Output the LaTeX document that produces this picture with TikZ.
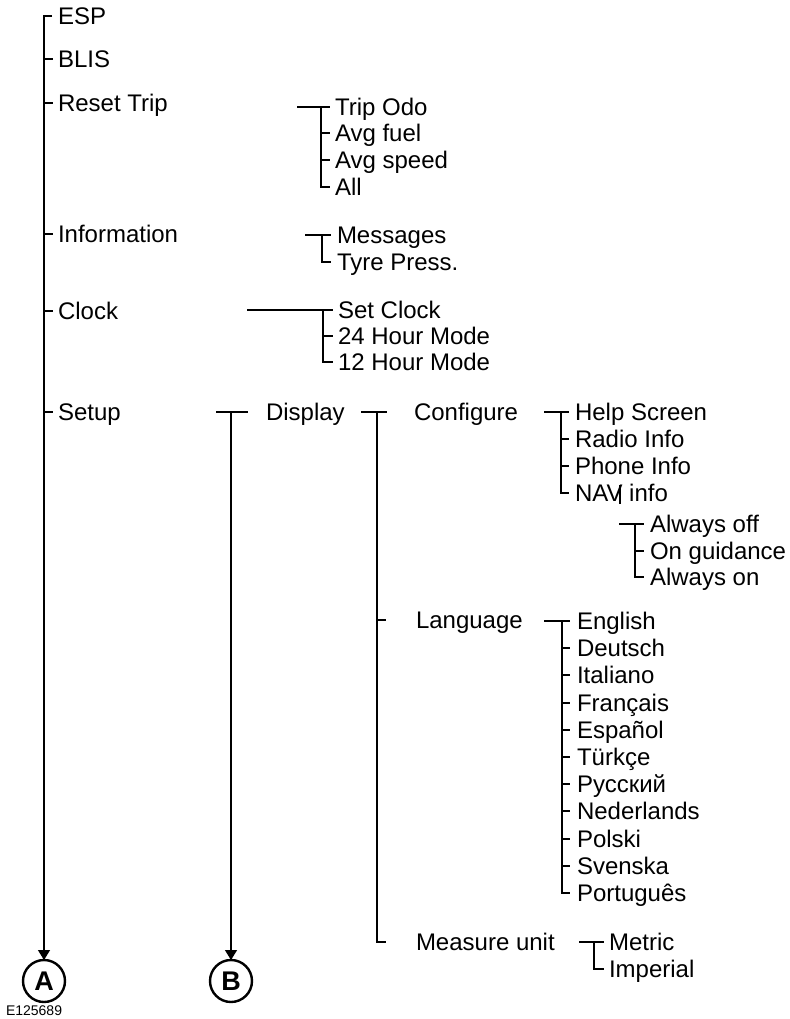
\documentclass[tikz,border=0pt]{standalone}
\usepackage{fontspec}
\setmainfont{Liberation Sans}
\usetikzlibrary{arrows.meta}
\begin{document}
\begin{tikzpicture}[x=1pt,y=-1pt,
  every node/.style={inner sep=0pt,outer sep=0pt},
  lbl/.style={anchor=west,text height=17pt,text depth=0pt,font=\fontsize{24}{27}\selectfont},
  ln/.style={line width=1.3pt,line cap=rect},
  arr/.style={line width=1.3pt,-{Triangle[width=12pt,length=10pt]}},
  circ/.style={circle,draw,line width=2.4pt,minimum size=42pt,font=\fontsize{27}{27}\selectfont\bfseries}]
\useasboundingbox (0,0) rectangle (789,1019);
% main column
\node[lbl] (esp) at (58,16) {ESP};
\node[lbl] (blis) at (58,59) {BLIS};
\node[lbl] (reset) at (58,103) {Reset Trip};
\node[lbl] (info) at (58,234) {Information};
\node[lbl] (clock) at (58,311) {Clock};
\node[lbl] (setup) at (58,412) {Setup};
\node[circ] (ca) at (44,981) {A};
\node[circ] (cb) at (231,981) {B};
\node[anchor=west,font=\fontsize{14}{14}\selectfont] (code) at (6,1011) {E125689};
\draw[arr] ([xshift=-6pt]esp.west) -| (ca.north);
\foreach \n in {blis,reset,info,clock,setup}
  \draw[ln] (ca.north |- \n.west) -- ([xshift=-6pt]\n.west);
% reset trip
\node[lbl] (odo) at (335,107) {Trip Odo};
\node[lbl] (fuel) at (335,133) {Avg fuel};
\node[lbl] (speed) at (335,160) {Avg speed};
\node[lbl] (all) at (335,187) {All};
\coordinate (r0) at (298,107);
\coordinate (rv) at (321,107);
\draw[ln] (r0) -- ([xshift=-6pt]odo.west);
\draw[ln] (rv) |- ([xshift=-6pt]all.west);
\foreach \n in {fuel,speed} \draw[ln] (rv |- \n.west) -- ([xshift=-6pt]\n.west);
% information
\node[lbl] (msg) at (337,235) {Messages};
\node[lbl] (tyre) at (337,262) {Tyre Press.};
\coordinate (i0) at (306,235);
\coordinate (iv) at (322,235);
\draw[ln] (i0) -- ([xshift=-7pt]msg.west);
\draw[ln] (iv) |- ([xshift=-7pt]tyre.west);
% clock
\node[lbl] (set) at (338,310) {Set Clock};
\node[lbl] (h24) at (338,336) {24 Hour Mode};
\node[lbl] (h12) at (338,362) {12 Hour Mode};
\coordinate (c0) at (248,310);
\coordinate (cv) at (323,310);
\draw[ln] (c0) -- ([xshift=-6pt]set.west);
\draw[ln] (cv) |- ([xshift=-6pt]h12.west);
\draw[ln] (cv |- h24.west) -- ([xshift=-6pt]h24.west);
% setup -> display
\node[lbl] (disp) at (266,412) {Display};
\coordinate (s0) at (217,412);
\coordinate (sv) at (231,412);
\draw[ln] (s0) -- ([xshift=-19pt]disp.west);
\draw[arr] (sv) -- (cb.north);
% display subtree
\node[lbl] (conf) at (414,412) {Configure};
\node[lbl] (lang) at (416,620) {Language};
\node[lbl] (meas) at (416,942) {Measure unit};
\coordinate (d0) at (362,412);
\coordinate (dv) at (377,412);
\draw[ln] (d0) -- ([xshift=-28pt]conf.west);
\draw[ln] (dv) |- ([xshift=-31pt]meas.west);
\draw[ln] (dv |- lang.west) -- ([xshift=-31pt]lang.west);
% configure subtree
\node[lbl] (help) at (575,412) {Help Screen};
\node[lbl] (radio) at (575,439) {Radio Info};
\node[lbl] (phone) at (575,466) {Phone Info};
\node[lbl] (nav) at (575,493) {NAV info};
\coordinate (f0) at (545,412);
\coordinate (fv) at (561,412);
\draw[ln] (f0) -- ([xshift=-7pt]help.west);
\draw[ln] (fv) |- ([xshift=-7pt]nav.west);
\foreach \n in {radio,phone} \draw[ln] (fv |- \n.west) -- ([xshift=-7pt]\n.west);
% NAV subtree
\coordinate (nt) at (620,486);
\coordinate (nb) at (620,503);
\draw[ln] (nt) -- (nb);
\node[lbl] (aoff) at (650,524) {Always off};
\node[lbl] (guid) at (650,551) {On guidance};
\node[lbl] (aon) at (650,577) {Always on};
\coordinate (n0) at (620,524);
\coordinate (nv) at (635,524);
\draw[ln] (n0) -- ([xshift=-7pt]aoff.west);
\draw[ln] (nv) |- ([xshift=-7pt]aon.west);
\draw[ln] (nv |- guid.west) -- ([xshift=-7pt]guid.west);
% language subtree
\foreach \t/\n/\y in {English/l1/621,Deutsch/l2/648,Italiano/l3/675,Français/l4/703,Español/l5/730,Türkçe/l6/757,Русский/l7/784,Nederlands/l8/811,Polski/l9/839,Svenska/l10/866,Português/l11/893}
  \node[lbl] (\n) at (577,\y) {\t};
\coordinate (g0) at (545,621);
\coordinate (gv) at (562,621);
\draw[ln] (g0) -- ([xshift=-8pt]l1.west);
\draw[ln] (gv) |- ([xshift=-8pt]l11.west);
\foreach \n in {l2,l3,l4,l5,l6,l7,l8,l9,l10}
  \draw[ln] (gv |- \n.west) -- ([xshift=-8pt]\n.west);
% measure subtree
\node[lbl] (metric) at (609,942) {Metric};
\node[lbl] (imp) at (609,969) {Imperial};
\coordinate (m0) at (580,942);
\coordinate (mv) at (594,942);
\draw[ln] (m0) -- ([xshift=-6pt]metric.west);
\draw[ln] (mv) |- ([xshift=-6pt]imp.west);
\end{tikzpicture}
\end{document}
